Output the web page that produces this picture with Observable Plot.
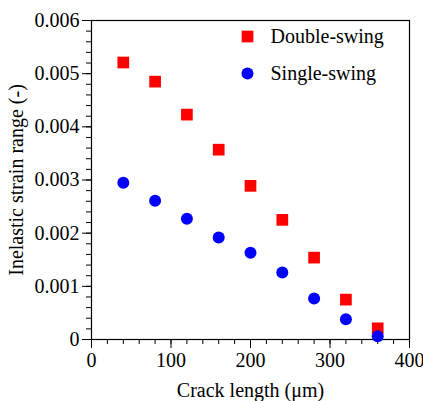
<!DOCTYPE html>
<html>
<head>
<meta charset="utf-8">
<script src="https://cdn.jsdelivr.net/npm/d3@7"></script>
<script src="https://cdn.jsdelivr.net/npm/@observablehq/plot@0.6"></script>
<style>
  html, body { margin: 0; padding: 0; background: #fff; }
  #chart svg, #chart svg text { font-family: "Liberation Serif", "Times New Roman", serif !important; font-variant: normal !important; }
</style>
</head>
<body>
<div id="chart"></div>
<script>
const crackLength = [40, 80, 120, 160, 200, 240, 280, 320, 360];
const doubleSwing = [0.00521, 0.00485, 0.00423, 0.00357, 0.00289, 0.00225, 0.00154, 0.00075, 0.00021];
const singleSwing = [0.00295, 0.00261, 0.00227, 0.00192, 0.00163, 0.00126, 0.00077, 0.00038, 0.00006];
const seriesNames = ["Double-swing", "Single-swing"];
const seriesColors = ["#ff0000", "#0000ff"];
const seriesSymbols = ["square", "circle"];
const xTicks = [0, 100, 200, 300, 400];
const yTicks = [0, 0.001, 0.002, 0.003, 0.004, 0.005, 0.006];
const xMinorTicks = d3.range(0, 21).map(i => i * 20);
const yMinorTicks = d3.range(0, 31).map(i => i * 0.0002);

const seriesValues = [doubleSwing, singleSwing];
const points = seriesNames.flatMap((name, s) =>
  crackLength.map((x, i) => ({series: name, x, y: seriesValues[s][i]}))
);

const font = "Liberation Serif";
const radii = [6.6, 6];

const marks = [
  Plot.axisX(xMinorTicks, {tickSize: 5, text: null, label: null}),
  Plot.axisY(yMinorTicks, {tickSize: 5, text: null, label: null}),
  Plot.axisX(xTicks, {tickSize: 9, tickPadding: 4, fontSize: 20, fontFamily: font,
    tickFormat: d => String(d),
    label: "Crack length (μm)", labelAnchor: "center", labelArrow: "none", labelOffset: 57}),
  Plot.axisY(yTicks, {tickSize: 9, tickPadding: 3, fontSize: 20, fontFamily: font,
    tickFormat: d => d === 0 ? "0" : d3.format(".3f")(d),
    label: "Inelastic strain range (-)", labelAnchor: "center", labelArrow: "none", labelOffset: 83}),
  Plot.frame({stroke: "black", strokeWidth: 1.2}),
];

seriesNames.forEach((name, s) => {
  marks.push(Plot.dot(points.filter(d => d.series === name), {
    x: "x", y: "y", symbol: () => seriesSymbols[s], fill: seriesColors[s], r: radii[s]
  }));
  marks.push(Plot.dot([name], {
    frameAnchor: "top-left", dx: 156, dy: 16 + 37 * s,
    symbol: seriesSymbols[s], fill: seriesColors[s], r: radii[s]
  }));
  marks.push(Plot.text([name], {
    text: d => d, frameAnchor: "top-left", dx: 179, dy: 16 + 37 * s,
    textAnchor: "start", lineAnchor: "middle", fontSize: 20, fontFamily: font, fill: "black"
  }));
});

const chart = Plot.plot({
  width: 423,
  height: 401,
  marginLeft: 91,
  marginRight: 14,
  marginTop: 20,
  marginBottom: 62,
  style: {fontFamily: font, fontSize: "20px", background: "#fff", color: "black"},
  x: {domain: [0, 400]},
  y: {domain: [0, 0.006]},
  symbol: {type: "identity"},
  marks
});
document.getElementById("chart").appendChild(chart);
</script>
</body>
</html>
